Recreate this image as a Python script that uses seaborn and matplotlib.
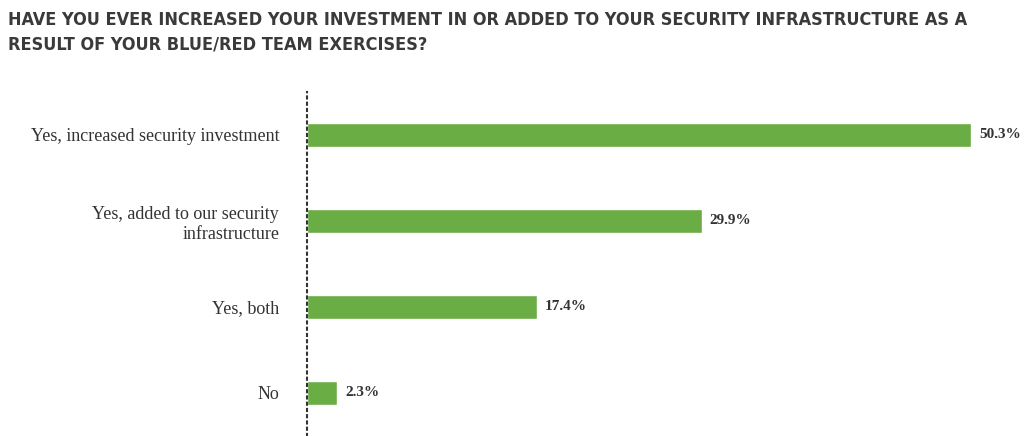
import matplotlib
matplotlib.use("Agg")
import matplotlib.pyplot as plt
import seaborn as sns
import pandas as pd

categories = ["Yes, increased security investment", "Yes, added to our security\ninfrastructure", "Yes, both", "No"]
values = [50.3, 29.9, 17.4, 2.3]
labels = ["50.3%", "29.9%", "17.4%", "2.3%"]

sns.set_style("white")
fig = plt.figure(figsize=(10.24, 4.36), dpi=100)
fig.text(0.008, 0.975, "HAVE YOU EVER INCREASED YOUR INVESTMENT IN OR ADDED TO YOUR SECURITY INFRASTRUCTURE AS A\nRESULT OF YOUR BLUE/RED TEAM EXERCISES?",
         ha="left", va="top", fontsize=13, fontweight="bold", fontstretch="condensed",
         family="DejaVu Sans", color="#3a3a3a", linespacing=1.45)
ax = fig.add_axes([0.2998, 0.0, 0.6485, 0.789])
df = pd.DataFrame({"cat": categories, "val": values})
sns.barplot(data=df, x="val", y="cat", color="#6aad45", width=0.28, saturation=1, ax=ax)
ax.set_xlim(0, 50.3)
ax.set_ylim(3.5, -0.5)
ax.set_xlabel(""); ax.set_ylabel("")
ax.set_xticks([])
for s in ["top", "right", "bottom"]:
    ax.spines[s].set_visible(False)
ax.spines["left"].set_linestyle((0, (1, 2)))
ax.spines["left"].set_color("#333")
ax.spines["left"].set_linewidth(1.5)
ax.tick_params(axis="y", length=0, pad=20)
for t in ax.get_yticklabels():
    t.set_family("Liberation Serif"); t.set_fontsize(13); t.set_color("#333"); t.set_ha("right")
for i, (v, l) in enumerate(zip(values, labels)):
    ax.text(v + 0.6, i, l, va="center", ha="left", family="Liberation Serif",
            fontsize=11, fontweight="bold", color="#333", clip_on=False)
fig.savefig("out.png", dpi=100)
